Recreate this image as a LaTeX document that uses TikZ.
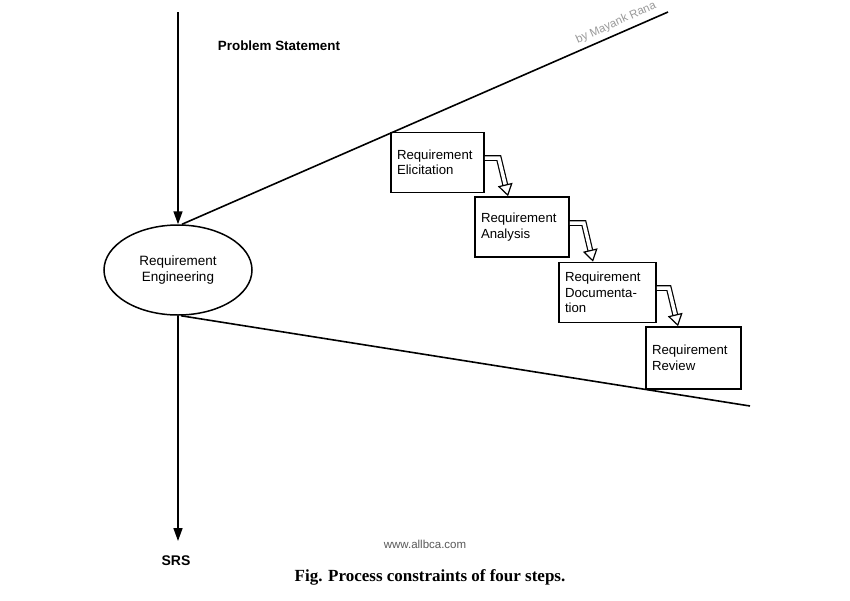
\documentclass[tikz,border=0pt]{standalone}
\usepackage{fontspec}
\setmainfont{Liberation Sans}
\newfontfamily\capfont{Liberation Serif}
\usetikzlibrary{shapes.geometric,arrows.meta}
\begin{document}
\begin{tikzpicture}[x=1pt,y=-1pt,
  line width=1.6pt,
  stepbox/.style={draw, line width=1.6pt, align=left, inner xsep=6pt, inner ysep=0pt,
    font=\fontsize{13.2}{15.5}\selectfont, minimum height=60pt},
  hollow/.style={draw, double=white, line width=1.2pt, double distance=3.5pt,
    -{Triangle[length=12pt,width=15pt,fill=white,line width=1.2pt]}},
  solidarrow/.style={-{Triangle[length=13pt,width=9pt]}},
  lbl/.style={font=\bfseries\fontsize{13.4}{16}\selectfont}
]
\useasboundingbox (0,0) rectangle (850,600);
\fill[white] (0,0) rectangle (850,600);

% main ellipse
\node[ellipse, draw, line width=1.5pt, minimum width=148pt, minimum height=90pt, align=center,
  font=\fontsize{13.5}{16}\selectfont, inner sep=0pt] (re) at (178,270) {Requirement\\Engineering};

\coordinate (top) at (178,12);
\coordinate (ur) at (668,12);
\coordinate (lr) at (750,406);
\coordinate (bot) at (178,541);

\draw[solidarrow] (top) -- (re.north);
\draw ([xshift=4pt]re.north) -- (ur);
\draw ([xshift=3pt]re.south) -- (lr);
\draw[solidarrow] (re.south) -- (bot);

\node[lbl] (ps) at (279,46) {Problem Statement};
\node[lbl, font=\bfseries\fontsize{14}{16}\selectfont] (srs) at (176,561) {SRS};

% steps
\node[stepbox, text width=81pt] (b1) at (437.5,162.5) {Requirement\\Elicitation};
\node[stepbox, text width=82pt] (b2) at (522,227) {Requirement\\Analysis};
\node[stepbox, text width=85pt] (b3) at (607.5,292.5) {Requirement\\Documenta-\\tion};
\node[stepbox, text width=83pt, minimum height=62pt] (b4) at (693.5,358) {Requirement\\Review};

\draw[hollow] ([yshift=4.5pt]b1.east) -- ++(14,0) -- ([xshift=-14pt]b2.north);
\draw[hollow] ([yshift=4pt]b2.east) -- ++(14,0) -- ([xshift=-14.5pt]b3.north);
\draw[hollow] ([yshift=4.5pt]b3.east) -- ++(12,0) -- ([xshift=-15.5pt]b4.north);

% texts
\node[rotate=24, text=black!40, font=\fontsize{11.5}{13}\selectfont] (wm) at (616,23) {by Mayank Rana};
\node[text=black!65, font=\fontsize{11.5}{13}\selectfont] (www) at (425,544) {www.allbca.com};
\node[font=\capfont\bfseries\fontsize{17}{19}\selectfont] (cap) at (430,577) {Fig. Process constraints of four steps.};
\end{tikzpicture}
\end{document}
